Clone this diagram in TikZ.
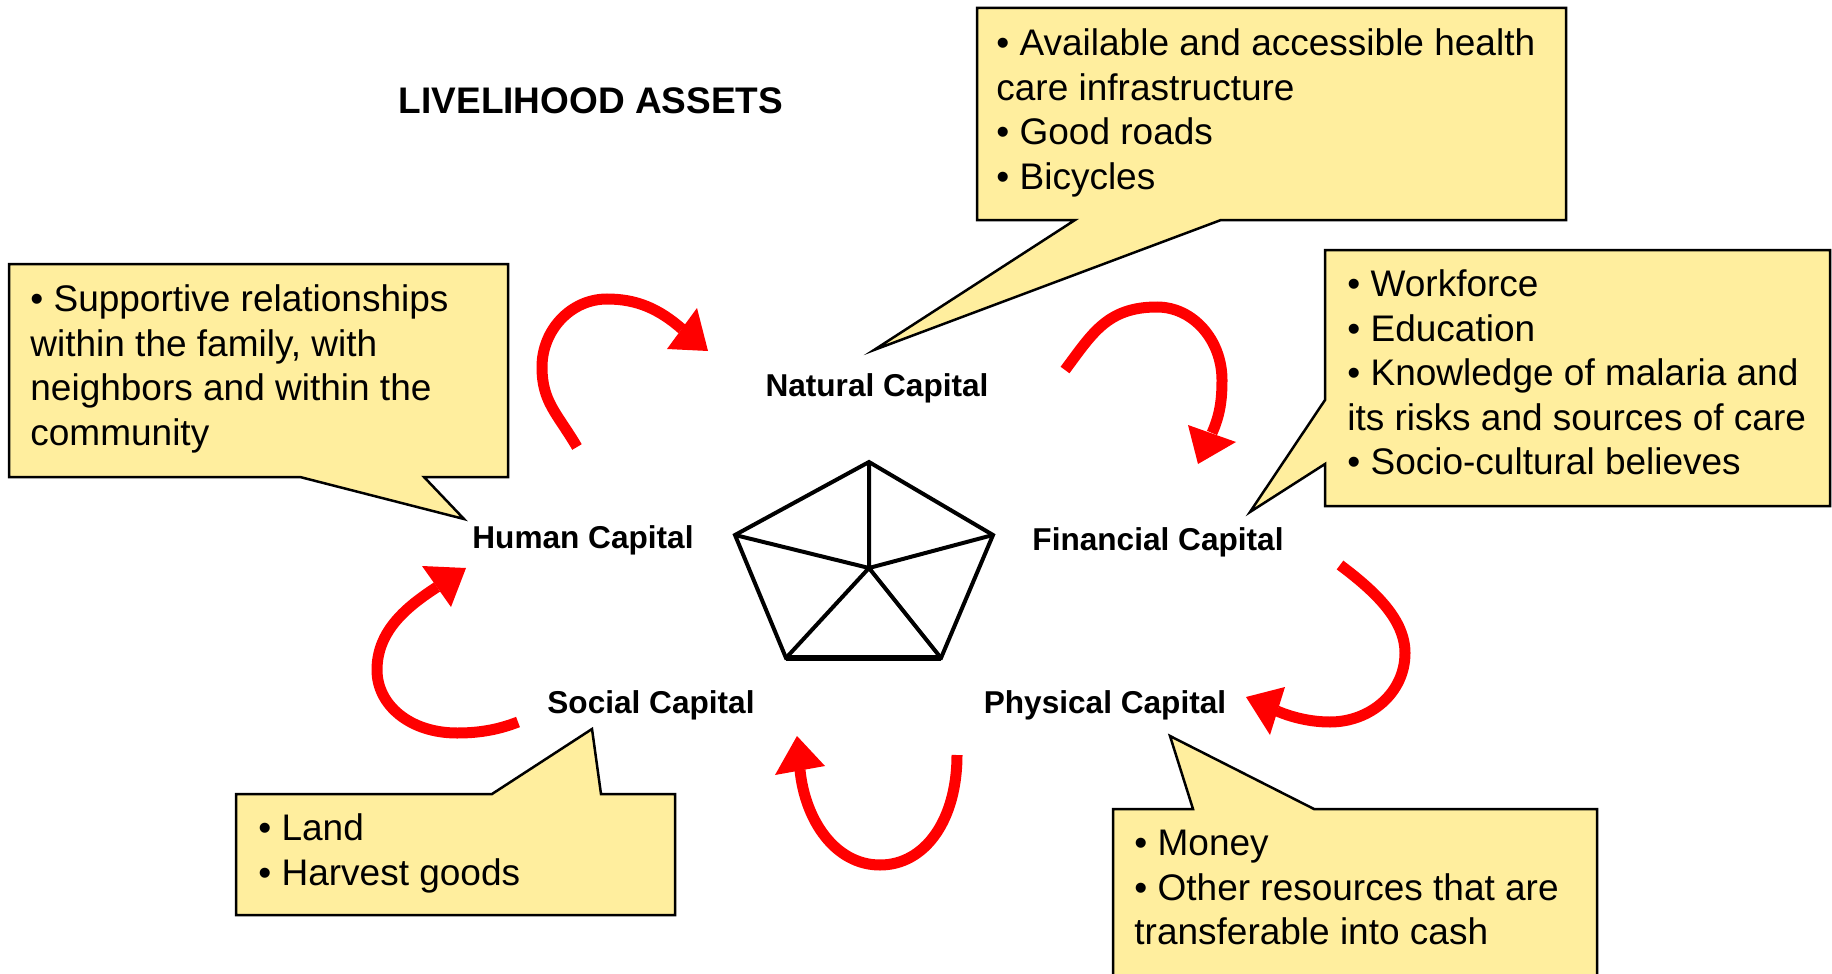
\documentclass[tikz,border=0pt]{standalone}
\usepackage{fontspec}
\setmainfont{Liberation Sans}
\definecolor{callfill}{RGB}{255,238,158}
\begin{document}
\begin{tikzpicture}[x=0.5pt,y=-0.5pt,
  callout/.style={draw=black, fill=callfill, line width=1.25pt, line join=miter},
  body/.style={anchor=north west, inner sep=0pt, align=left, font=\fontsize{18.5pt}{22.3pt}\selectfont},
  lbl/.style={anchor=base, inner sep=0pt, font=\bfseries\fontsize{15.8pt}{19pt}\selectfont},
  ttl/.style={anchor=base, inner sep=0pt, font=\bfseries\fontsize{18.5pt}{22pt}\selectfont},
  cyc/.style={draw=red, line width=5.5pt},
  head/.style={fill=red},
  pent/.style={draw=black, line width=2pt, line join=miter}]
\clip (0,0) rectangle (1832,974);

% title
\node[ttl] (title) at (591,114) {LIVELIHOOD ASSETS};

% callouts
\draw[callout] (977,8) -- (1566,8) -- (1566,220) -- (1221,220) -- (874,350) -- (1075,220) -- (977,220) -- cycle;
\node[body] (ntext) at (996,21) {\rule{0pt}{17pt}• Available and accessible health\\care infrastructure\\• Good roads\\• Bicycles};

\draw[callout] (1325,250) -- (1830,250) -- (1830,506) -- (1325,506) -- (1325,464) -- (1250,512) -- (1325,400) -- cycle;
\node[body] (ftext) at (1347,262) {\rule{0pt}{17pt}• Workforce\\• Education\\• Knowledge of malaria and\\its risks and sources of care\\• Socio-cultural believes};

\draw[callout] (9,264) -- (508,264) -- (508,477) -- (424,477) -- (464,519) -- (300,477) -- (9,477) -- cycle;
\node[body] (htext) at (30,277) {\rule{0pt}{17pt}• Supportive relationships\\within the family, with\\neighbors and within the\\community};

\draw[callout] (236,794) -- (492,794) -- (592,729) -- (601,794) -- (675,794) -- (675,915) -- (236,915) -- cycle;
\node[body] (stext) at (258,806) {\rule{0pt}{17pt}• Land\\• Harvest goods};

\draw[callout] (1113,1000) -- (1113,809) -- (1193,809) -- (1170,736) -- (1314,809) -- (1597,809) -- (1597,1000);
\node[body] (ptext) at (1134,821) {\rule{0pt}{17pt}• Money\\• Other resources that are\\transferable into cash};

% capital labels
\node[lbl] (natural) at (877,396) {Natural Capital};
\node[lbl] (human) at (583,548) {Human Capital};
\node[lbl] (financial) at (1158,550) {Financial Capital};
\node[lbl] (social) at (651,713) {Social Capital};
\node[lbl] (physical) at (1105,713) {Physical Capital};

% pentagon
\coordinate (pT) at (869,462);
\coordinate (pL) at (735,535);
\coordinate (pR) at (993,535);
\coordinate (pBL) at (786,658);
\coordinate (pBR) at (941,658);
\coordinate (pC) at (869,568);
\draw[pent] (pT) -- (pR) -- (pBR) -- (pBL) -- (pL) -- cycle;
\draw[pent] (pC) -- (pT) (pC) -- (pR) (pC) -- (pBR) (pC) -- (pBL) (pC) -- (pL);
\draw[pent, line width=2.6pt] (pBL) -- (pBR);

% red cycle arrows
\draw[cyc] (577,447) .. controls (557,413) and (542,402) .. (542,367)
  .. controls (542,330) and (571,299) .. (607,299)
  .. controls (637,299) and (659,309) .. (682,329);
\fill[head] (697,308) -- (708,351) -- (667,349) -- cycle;

\draw[cyc] (1065,370) .. controls (1092,334) and (1107,307) .. (1157,307)
  .. controls (1193,307) and (1222,340) .. (1222,380)
  .. controls (1222,400) and (1220,415) .. (1212,433);
\fill[head] (1188,425) -- (1236,442) -- (1198,464) -- cycle;

\draw[cyc] (1340,565) .. controls (1376,592) and (1405,620) .. (1405,653)
  .. controls (1405,693) and (1370,722) .. (1330,722)
  .. controls (1310,722) and (1291,717) .. (1277,711);
\fill[head] (1285,687) -- (1270,735) -- (1246,697) -- cycle;

\draw[cyc] (957,755) .. controls (957,820) and (925,865) .. (880,865)
  .. controls (835,865) and (805,820) .. (800,770);
\fill[head] (775,775) -- (825,766) -- (797,736) -- cycle;

\draw[cyc] (518,722) .. controls (495,731) and (475,733) .. (457,733)
  .. controls (410,733) and (377,705) .. (377,670)
  .. controls (377,630) and (408,606) .. (437,587);
\fill[head] (422,566) -- (451,607) -- (466,568) -- cycle;
\end{tikzpicture}
\end{document}
